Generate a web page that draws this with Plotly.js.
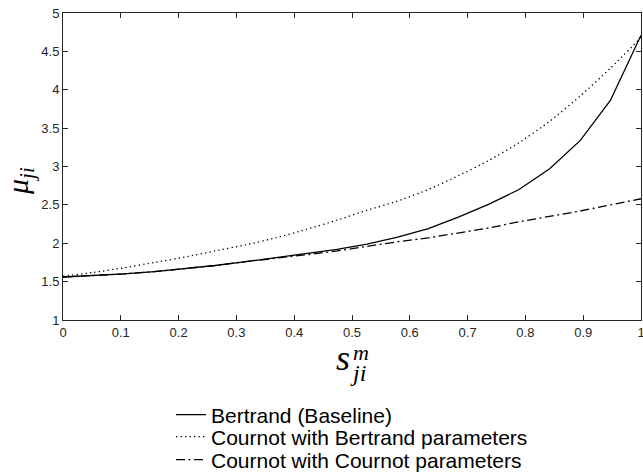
<!DOCTYPE html>
<html>
<head>
<meta charset="utf-8">
<script src="https://cdn.plot.ly/plotly-3.0.1.min.js"></script>
<style>
  html, body { margin: 0; padding: 0; background: #ffffff; }
  #chart { width: 643px; height: 476px; }
</style>
</head>
<body>
<div id="chart"></div>
<script>
// Market share s_ji^m (20 evaluation points on [0, 1])
const shareGrid = [0, 0.053, 0.105, 0.158, 0.211, 0.263, 0.316, 0.368, 0.421, 0.474,
                   0.526, 0.579, 0.632, 0.684, 0.737, 0.789, 0.842, 0.895, 0.947, 1];

// Markup mu_ji under each competition model
const bertrandBaseline = [1.56, 1.58, 1.60, 1.63, 1.67, 1.71, 1.76, 1.81, 1.86, 1.92,
                          1.99, 2.08, 2.19, 2.34, 2.51, 2.70, 2.97, 3.34, 3.86, 4.71];
const cournotBertrandParams = [1.57, 1.62, 1.68, 1.75, 1.82, 1.90, 1.98, 2.07, 2.18, 2.30,
                               2.43, 2.55, 2.70, 2.88, 3.08, 3.31, 3.59, 3.92, 4.28, 4.68];
const cournotCournotParams = [1.56, 1.58, 1.60, 1.63, 1.67, 1.71, 1.76, 1.80, 1.85, 1.90,
                              1.96, 2.02, 2.07, 2.13, 2.20, 2.28, 2.35, 2.42, 2.50, 2.58];

const seriesNames = ['Bertrand (Baseline)',
                     'Cournot with Bertrand parameters',
                     'Cournot with Cournot parameters'];

const xTickVals = [0, 0.1, 0.2, 0.3, 0.4, 0.5, 0.6, 0.7, 0.8, 0.9, 1];
const xTickText = ['0', '0.1', '0.2', '0.3', '0.4', '0.5', '0.6', '0.7', '0.8', '0.9', '1'];
const yTickVals = [1, 1.5, 2, 2.5, 3, 3.5, 4, 4.5, 5];
const yTickText = ['1', '1.5', '2', '2.5', '3', '3.5', '4', '4.5', '5'];

const W = 643, H = 476;
const M = { l: 63, r: 2, t: 13, b: 156, autoexpand: false };
const plotW = W - M.l - M.r, plotH = H - M.t - M.b;
// page pixel -> paper coordinates (for labels and legend rows)
const px = x => (x - M.l) / plotW;
const py = y => (H - M.b - y) / plotH;

const axisColor = '#262626';
const mathFont = 'Liberation Serif, DejaVu Serif, serif';
const sansFont = 'Liberation Sans, Arial, sans-serif';

const traces = [
  { x: shareGrid, y: bertrandBaseline, name: seriesNames[0], type: 'scatter', mode: 'lines',
    legend: 'legend',
    line: { color: '#000000', width: 1.3, dash: 'solid' } },
  { x: shareGrid, y: cournotBertrandParams, name: seriesNames[1], type: 'scatter', mode: 'lines',
    legend: 'legend2',
    line: { color: '#000000', width: 1.3, dash: '1.3px,3.2px', shape: 'spline', smoothing: 0.6 } },
  { x: shareGrid, y: cournotCournotParams, name: seriesNames[2], type: 'scatter', mode: 'lines',
    legend: 'legend3',
    line: { color: '#000000', width: 1.3, dash: '9px,3.5px,2px,3.5px' } }
];

const axisCommon = {
  showline: true, linecolor: axisColor, linewidth: 1,
  mirror: 'allticks', ticks: 'inside', ticklen: 5, tickwidth: 1, tickcolor: axisColor,
  showgrid: false, zeroline: false, ticklabeloverflow: 'allow',
  tickfont: { family: sansFont, size: 13, color: axisColor }
};

// one legend box per row so the rows sit at their own heights
const legendRow = yPix => ({
  x: px(171), xanchor: 'left', y: py(yPix), yanchor: 'middle',
  orientation: 'v', bgcolor: 'rgba(0,0,0,0)', borderwidth: 0,
  font: { family: sansFont, size: 21, color: '#000000' }
});

const layout = {
  width: W, height: H,
  margin: M,
  paper_bgcolor: '#ffffff', plot_bgcolor: '#ffffff',
  showlegend: true,
  legend: legendRow(415),
  legend2: legendRow(437),
  legend3: legendRow(460),
  xaxis: Object.assign({}, axisCommon, {
    range: [0, 1], tickmode: 'array', tickvals: xTickVals, ticktext: xTickText
  }),
  yaxis: Object.assign({}, axisCommon, {
    range: [1, 5], tickmode: 'array', tickvals: yTickVals, ticktext: yTickText
  }),
  annotations: [
    // y label: mu_ji, rotated
    { xref: 'paper', yref: 'paper', x: px(20), y: py(181), xanchor: 'center', yanchor: 'middle',
      textangle: -90, showarrow: false,
      text: '<i>μ</i><sub><i>ji</i></sub>',
      font: { family: mathFont, size: 30, color: '#000000' } },
    // x label: s^m_ji
    { xref: 'paper', yref: 'paper', x: px(343), y: py(358), xanchor: 'center', yanchor: 'middle',
      showarrow: false, text: '<i>s</i>',
      font: { family: mathFont, size: 36, color: '#000000' } },
    { xref: 'paper', yref: 'paper', x: px(361), y: py(352), xanchor: 'center', yanchor: 'middle',
      showarrow: false, text: '<i>m</i>',
      font: { family: mathFont, size: 22, color: '#000000' } },
    { xref: 'paper', yref: 'paper', x: px(358), y: py(373), xanchor: 'center', yanchor: 'middle',
      showarrow: false, text: '<i>ji</i>',
      font: { family: mathFont, size: 24, color: '#000000' } }
  ]
};

Plotly.newPlot('chart', traces, layout, { staticPlot: true, displayModeBar: false });
</script>
</body>
</html>
